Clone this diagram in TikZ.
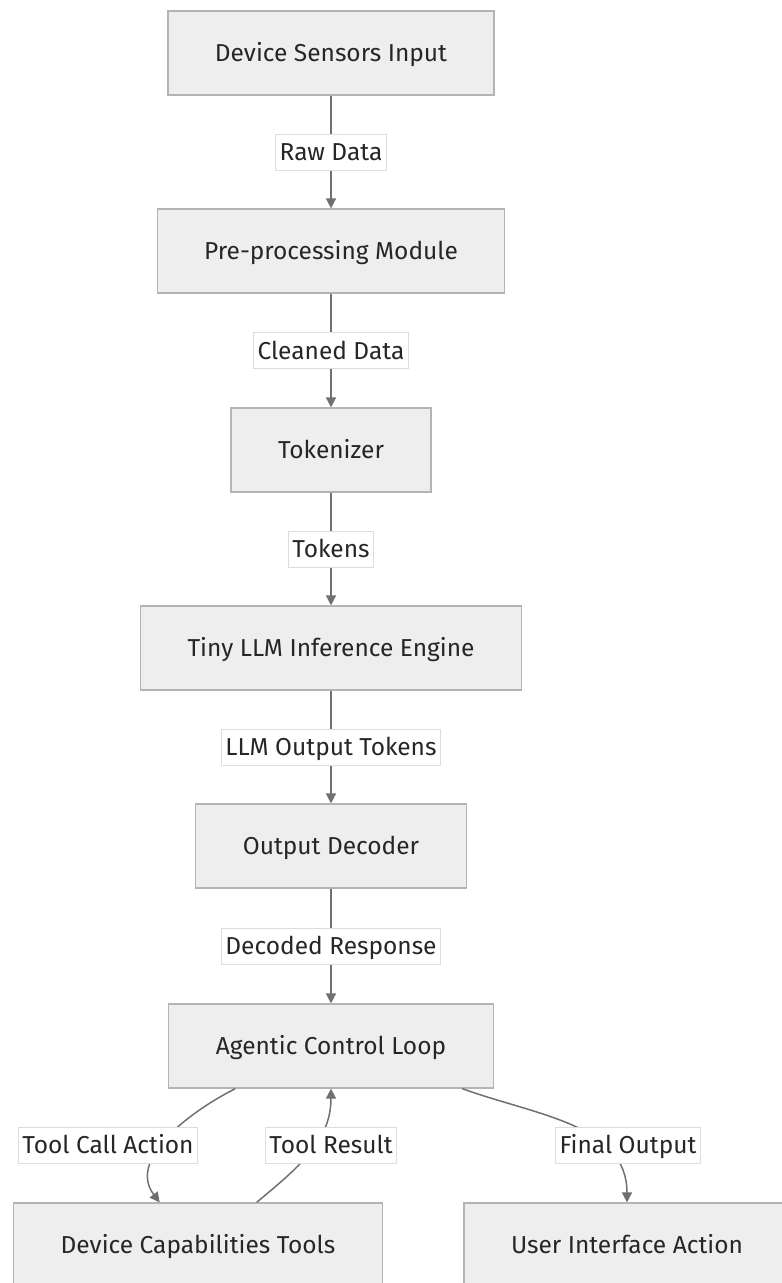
\documentclass[tikz,border=0pt]{standalone}
\usepackage{fontspec}
\setmainfont{Fira Sans}
\usetikzlibrary{arrows.meta}
\definecolor{boxfill}{HTML}{EEEEEE}
\definecolor{boxline}{HTML}{B4B4B4}
\definecolor{edgeline}{HTML}{707070}
\definecolor{tagline}{HTML}{DDDDDD}
\tikzset {>={Triangle[length=10pt,width=10pt]}}
\tikzset{
  block/.style={draw=boxline, fill=boxfill, line width=1.2pt, minimum height=84pt,
    inner xsep=47pt, text height=17pt, text depth=0pt, text=black!85,
    font=\fontsize{24.5}{28}\selectfont},
  flow/.style={->, draw=edgeline, color=edgeline, line width=1.5pt},
  tag/.style={fill=white, draw=tagline, line width=0.6pt, inner xsep=4pt,
    minimum height=36pt, text height=17pt, text depth=0pt, text=black!85,
    font=\fontsize{24.5}{28}\selectfont}
}

\begin{document}
\begin{tikzpicture}[x=1pt,y=-1pt]
\useasboundingbox (0,0) rectangle (782,1283);
% boxes
\node[block] (sensors) at (331,53) {Device Sensors Input};
\node[block] (prep) at (331,251) {Pre-processing Module};
\node[block] (tok) at (331,450) {Tokenizer};
\node[block] (engine) at (331,648) {Tiny LLM Inference Engine};
\node[block] (decoder) at (331,846) {Output Decoder};
\node[block] (ctrl) at (331,1046) {Agentic Control Loop};
\node[block] (tools) at (198,1245) {Device Capabilities Tools};
\node[block] (ui) at (627,1245) {User Interface Action};
% straight flow
\draw[flow] (sensors) -- node[tag] {Raw Data} (prep);
\draw[flow] (prep) -- node[tag] {Cleaned Data} (tok);
\draw[flow] (tok) -- node[tag] {Tokens} (engine);
\draw[flow] (engine) -- node[tag] {LLM Output Tokens} (decoder);
\draw[flow] (decoder) -- node[tag] {Decoded Response} (ctrl);
% loop edges
\draw[flow] (ctrl.204) to[out=207,in=127] (tools.132);
\draw[flow] (tools.36) to[out=40,in=-90] (ctrl.south);
\draw[flow] (ctrl.-18) to[out=-20,in=90] (ui.north);
\node[tag] (callLbl) at (108,1145) {Tool Call Action};
\node[tag] (resLbl) at (331,1145) {Tool Result};
\node[tag] (outLbl) at (628,1145) {Final Output};
\end{tikzpicture}
\end{document}
